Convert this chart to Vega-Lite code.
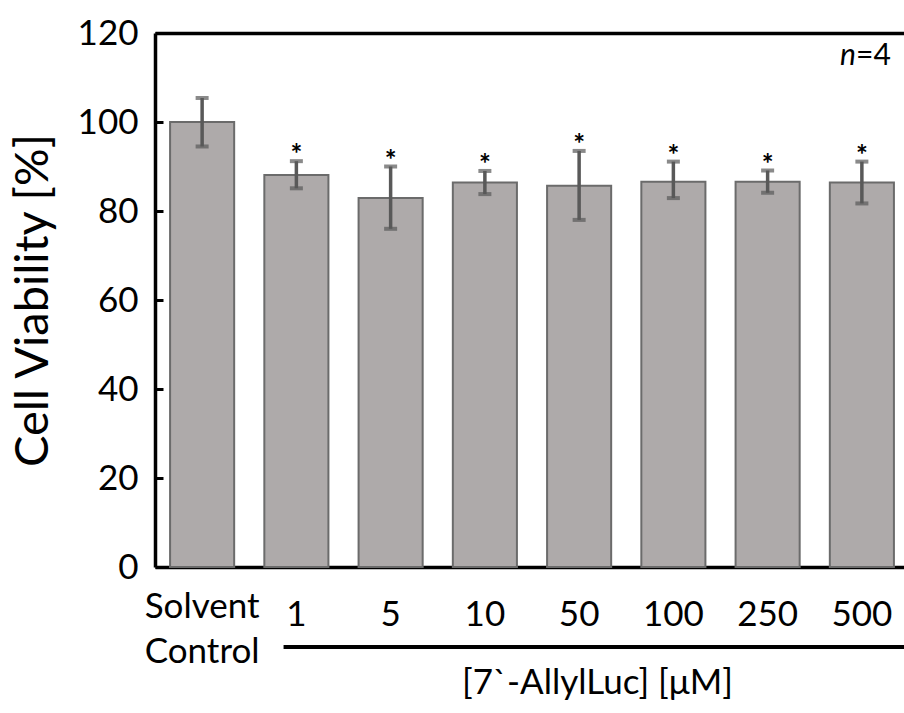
{
  "$schema": "https://vega.github.io/schema/vega-lite/v6.json",
  "autosize": {"type": "none"},
  "padding": {"left": 155, "top": 33, "right": 0, "bottom": 146},
  "width": 749,
  "height": 534,
  "background": "white",
  "config": {"view": {"stroke": null}, "font": "Lato"},
  "data": {"values": [
    {"cat": "Solvent Control", "v": 100.0, "lo": 94.5, "hi": 105.4, "sig": false},
    {"cat": "1", "v": 88.1, "lo": 85.1, "hi": 91.2, "sig": true},
    {"cat": "5", "v": 82.9, "lo": 76.0, "hi": 90.0, "sig": true},
    {"cat": "10", "v": 86.4, "lo": 83.8, "hi": 89.0, "sig": true},
    {"cat": "50", "v": 85.7, "lo": 78.0, "hi": 93.5, "sig": true},
    {"cat": "100", "v": 86.6, "lo": 82.9, "hi": 91.1, "sig": true},
    {"cat": "250", "v": 86.6, "lo": 84.1, "hi": 89.1, "sig": true},
    {"cat": "500", "v": 86.4, "lo": 81.7, "hi": 91.1, "sig": true}
  ]},
  "resolve": {"axis": {"x": "independent", "y": "independent"}},
  "layer": [
    {
      "mark": {"type": "bar", "fill": "#aeaaaa", "stroke": "#6b6b6b", "strokeWidth": 2},
      "encoding": {
        "x": {"field": "cat", "type": "nominal", "sort": null,
          "scale": {"domain": ["Solvent Control", "1", "5", "10", "50", "100", "250", "500"], "range": [0, 754], "paddingInner": 0.32, "paddingOuter": 0.16},
          "axis": {"orient": "bottom", "title": "[7`-AllylLuc] [μM]", "titleFont": "Lato", "titleFontSize": 35, "titleFontWeight": "normal", "titleColor": "black",
            "titleX": 442, "titleY": 126, "titleBaseline": "alphabetic", "titleAnchor": "middle", "titleAlign": "center",
            "labelExpr": "datum.value == 'Solvent Control' ? ['Solvent', 'Control'] : datum.value",
            "labelFont": "Lato", "labelFontSize": 35, "labelColor": "black", "labelAngle": 0, "labelBaseline": "alphabetic", "labelLineHeight": 45,
            "labelPadding": {"condition": {"test": "datum.value == 'Solvent Control'", "value": 50}, "value": 58},
            "ticks": false, "domainColor": "black", "domainWidth": 3.5}},
        "y": {"field": "v", "type": "quantitative",
          "scale": {"domain": [0, 120], "nice": false},
          "axis": {"title": "Cell Viability [%]", "titleFont": "Lato", "titleFontSize": 47, "titleFontWeight": "normal", "titleColor": "black", "titlePadding": 20,
            "values": [0, 20, 40, 60, 80, 100, 120], "grid": false, "labelFont": "Lato", "labelFontSize": 35, "labelColor": "black", "labelPadding": 25,
            "tickSize": -8, "tickWidth": 3, "tickColor": "black", "domainColor": "black", "domainWidth": 3.5}}
      }
    },
    {
      "mark": {"type": "rule", "color": "#595959", "strokeWidth": 3.5},
      "encoding": {
        "x": {"field": "cat", "type": "nominal", "sort": null, "axis": null},
        "y": {"field": "lo", "type": "quantitative", "axis": null},
        "y2": {"field": "hi"}
      }
    },
    {
      "mark": {"type": "tick", "color": "#595959", "size": 13, "thickness": 4},
      "encoding": {
        "x": {"field": "cat", "type": "nominal", "sort": null, "axis": null},
        "y": {"field": "lo", "type": "quantitative", "axis": null}
      }
    },
    {
      "mark": {"type": "tick", "color": "#595959", "size": 13, "thickness": 4},
      "encoding": {
        "x": {"field": "cat", "type": "nominal", "sort": null, "axis": null},
        "y": {"field": "hi", "type": "quantitative", "axis": null}
      }
    },
    {
      "transform": [{"filter": "datum.sig"}],
      "mark": {"type": "text", "text": "*", "font": "Lato", "fontSize": 28, "fontWeight": "bold", "color": "black", "baseline": "alphabetic", "dy": 3},
      "encoding": {
        "x": {"field": "cat", "type": "nominal", "sort": null, "axis": null},
        "y": {"field": "hi", "type": "quantitative", "axis": null}
      }
    },
    {
      "data": {"values": [{"cat": "1"}]},
      "mark": {"type": "rule", "color": "black", "strokeWidth": 4},
      "encoding": {
        "x": {"field": "cat", "type": "nominal", "bandPosition": 0.3,
          "axis": {"orient": "top", "labels": false, "ticks": false, "title": null, "domainColor": "black", "domainWidth": 3.5}},
        "x2": {"value": "width"},
        "y": {"datum": -18, "type": "quantitative", "axis": null}
      }
    },
    {
      "data": {"values": [{"cat": "500", "t": "n"}]},
      "mark": {"type": "text", "font": "Lato", "fontSize": 30, "fontStyle": "italic", "align": "right", "baseline": "alphabetic", "dx": -38, "color": "black"},
      "encoding": {
        "x": {"field": "cat", "type": "nominal", "bandPosition": 1, "axis": null},
        "y": {"datum": 112.8, "type": "quantitative", "axis": null},
        "text": {"field": "t"}
      }
    },
    {
      "data": {"values": [{"cat": "500", "t": "=4"}]},
      "mark": {"type": "text", "font": "Lato", "fontSize": 30, "align": "right", "baseline": "alphabetic", "dx": -3, "color": "black"},
      "encoding": {
        "x": {"field": "cat", "type": "nominal", "bandPosition": 1, "axis": null},
        "y": {"datum": 112.8, "type": "quantitative", "axis": null},
        "text": {"field": "t"}
      }
    }
  ]
}
